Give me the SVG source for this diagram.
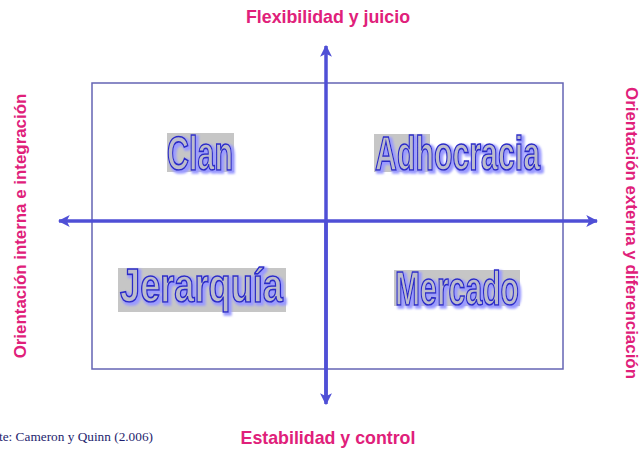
<svg xmlns="http://www.w3.org/2000/svg" width="640" height="451" viewBox="0 0 640 451">
<defs>
<marker id="ah" viewBox="0 0 10 10" refX="9" refY="5" markerWidth="3.4" markerHeight="3.4" orient="auto" markerUnits="strokeWidth">
<path d="M0,0 L10,5 L0,10 L2.5,5 Z" fill="#4f4fd6"/>
</marker>
<filter id="ws" x="-10%" y="-20%" width="130%" height="150%">
<feMorphology in="SourceAlpha" operator="dilate" radius="0.6" result="d"/>
<feOffset in="d" dx="2" dy="2" result="o"/>
<feGaussianBlur in="o" stdDeviation="0.8" result="b"/>
<feFlood flood-color="#9a9aff" result="c"/>
<feComposite in="c" in2="b" operator="in" result="s"/>
<feMerge><feMergeNode in="s"/><feMergeNode in="SourceGraphic"/></feMerge>
</filter>
</defs>
<style>
.axis{stroke:#4f4fd6;stroke-width:3.5;fill:none}
.frame{fill:none;stroke:#6464b4;stroke-width:1.5}
.lbl{font-family:"Liberation Sans",Arial,sans-serif;font-weight:bold;fill:#e0207a}
.tb{font-size:17.8px}
.sd{font-size:16.9px}
.wa{font-family:"Liberation Sans",Arial,sans-serif;font-weight:bold;font-size:48px;fill:#bcbccc;stroke:#2a2ac8;stroke-width:1.7}
.hl{fill:#c6c6c6}
.src{font-family:"Liberation Serif","Times New Roman",serif;font-size:13.3px;fill:#1e1e6e}
</style>
<rect width="640" height="451" fill="#ffffff"/>
<g id="frame"><rect class="frame" x="92" y="83" width="471" height="286"/></g>
<g id="connectors">
<line class="axis" x1="326" y1="400" x2="326" y2="46" marker-end="url(#ah)"/>
<line class="axis" x1="326" y1="221" x2="326" y2="404" marker-end="url(#ah)"/>
<line class="axis" x1="326" y1="221" x2="59" y2="221" marker-end="url(#ah)"/>
<line class="axis" x1="326" y1="221" x2="597" y2="221" marker-end="url(#ah)"/>
</g>
<g id="clan">
<rect class="hl" x="167" y="133" width="67" height="39"/>
<text class="wa" x="167" y="170" textLength="66" lengthAdjust="spacingAndGlyphs" filter="url(#ws)">Clan</text>
</g>
<g id="adhocracia">
<rect class="hl" x="374" y="134" width="56" height="38"/>
<text class="wa" x="375" y="170" textLength="165" lengthAdjust="spacingAndGlyphs" filter="url(#ws)">Adhocracia</text>
</g>
<g id="jerarquia">
<rect class="hl" x="118" y="268" width="168" height="44"/>
<text class="wa" x="120" y="302" textLength="163" lengthAdjust="spacingAndGlyphs" filter="url(#ws)">Jerarquía</text>
</g>
<g id="mercado">
<rect class="hl" x="394" y="270" width="126" height="36"/>
<text class="wa" x="395" y="305" textLength="124" lengthAdjust="spacingAndGlyphs" filter="url(#ws)">Mercado</text>
</g>
<g id="top-label"><text class="lbl tb" x="328" y="23" text-anchor="middle">Flexibilidad y juicio</text></g>
<g id="bottom-label"><text class="lbl tb" x="328" y="444" text-anchor="middle">Estabilidad y control</text></g>
<g id="left-label"><text class="lbl sd" transform="translate(26,226) rotate(-90)" text-anchor="middle">Orientación interna e integración</text></g>
<g id="right-label"><text class="lbl sd" transform="translate(626,233) rotate(90)" text-anchor="middle">Orientación externa y diferenciación</text></g>
<g id="source"><text class="src" x="-1" y="441">te: Cameron y Quinn (2.006)</text></g>
</svg>
